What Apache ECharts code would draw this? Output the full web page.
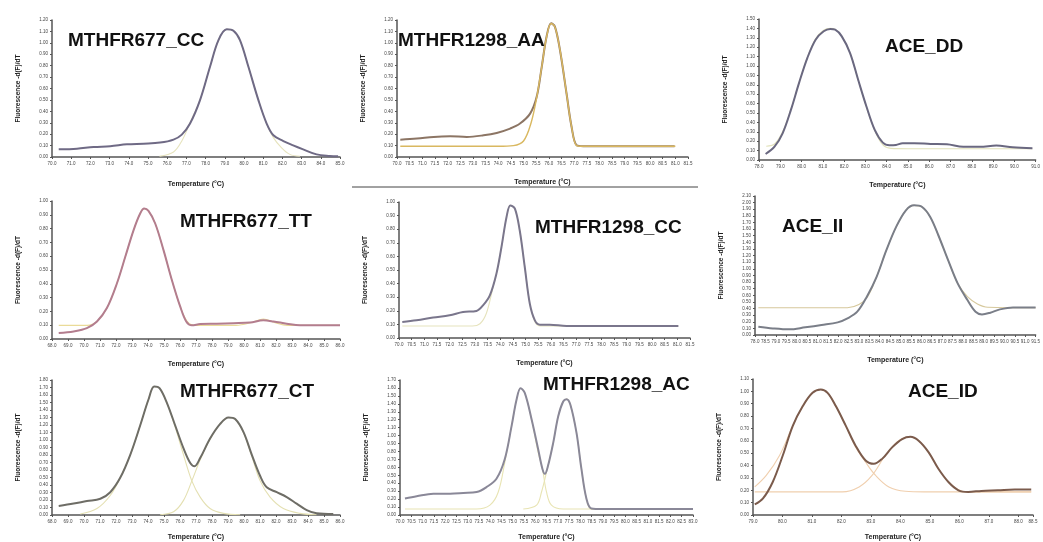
<!DOCTYPE html>
<html>
<head>
<meta charset="utf-8">
<script src="https://cdn.jsdelivr.net/npm/echarts@6/dist/echarts.min.js"></script>
<style>
  html, body { margin: 0; padding: 0; background: #fff; }
  #chart { width: 1043px; height: 542px; }
</style>
</head>
<body>
<div id="chart"></div>
<script>
// melt peaks, points are [temperature, -dF/dT]
const cc677Melt = [[70.35,0.067],[71.30,0.073],[72.17,0.088],[73.03,0.094],[73.90,0.111],[74.77,0.117],[75.63,0.126],[76.33,0.152],[76.76,0.196],[77.19,0.293],[77.71,0.498],[78.23,0.790],[78.67,1.024],[79.10,1.118],[79.45,1.106],[79.79,1.024],[80.23,0.790],[80.75,0.498],[81.18,0.293],[81.53,0.190],[82.05,0.140],[82.56,0.102],[83.08,0.067],[83.78,0.023],[84.47,0.009],[84.90,0.006]];
const cc677Fit = [[75.6,0.006],[76.33,0.044],[76.76,0.14],[77.19,0.30],[77.71,0.50],[78.23,0.79],[78.67,1.02],[79.10,1.118],[79.45,1.106],[79.79,1.02],[80.23,0.79],[80.75,0.498],[81.18,0.29],[81.53,0.17],[81.96,0.08],[82.39,0.023],[82.91,0.006]];

const aa1298Melt = [[70.13,0.152],[70.79,0.161],[71.45,0.176],[72.10,0.181],[72.76,0.176],[73.42,0.190],[73.94,0.211],[74.47,0.249],[74.86,0.293],[75.26,0.380],[75.52,0.527],[75.72,0.790],[75.91,1.054],[76.09,1.171],[76.24,1.142],[76.44,0.937],[76.70,0.556],[76.90,0.263],[77.10,0.102],[77.36,0.094],[78.02,0.094],[79.33,0.094],[80.97,0.094]];
const aa1298Fit = [[70.13,0.094],[72.0,0.094],[74.0,0.094],[74.6,0.10],[75.0,0.14],[75.3,0.30],[75.52,0.52],[75.72,0.79],[75.91,1.05],[76.09,1.17],[76.24,1.14],[76.44,0.94],[76.70,0.556],[76.90,0.263],[77.10,0.10],[77.36,0.094],[81.0,0.094]];

const ddAceMelt = [[78.31,0.064],[78.73,0.142],[79.11,0.284],[79.50,0.533],[79.88,0.818],[80.27,1.084],[80.66,1.280],[81.04,1.369],[81.35,1.394],[81.58,1.386],[81.89,1.315],[82.28,1.138],[82.66,0.853],[83.05,0.569],[83.44,0.320],[83.82,0.185],[84.13,0.156],[84.44,0.160],[84.75,0.178],[85.29,0.178],[86.06,0.171],[86.83,0.167],[87.60,0.142],[88.38,0.142],[89.15,0.153],[89.92,0.135],[90.85,0.124]];
const ddAceFit = [[78.34,0.146],[78.73,0.17],[79.11,0.30],[79.50,0.54],[79.88,0.82],[80.27,1.09],[80.66,1.29],[81.04,1.38],[81.35,1.40],[81.58,1.39],[81.89,1.32],[82.28,1.14],[82.66,0.85],[83.05,0.56],[83.44,0.31],[83.82,0.16],[84.2,0.124],[85.0,0.12],[90.85,0.12]];

const tt677Melt = [[68.42,0.043],[69.35,0.055],[70.18,0.079],[70.81,0.127],[71.43,0.224],[72.06,0.404],[72.58,0.596],[73.10,0.789],[73.51,0.909],[73.76,0.945],[74.03,0.928],[74.45,0.837],[74.97,0.644],[75.49,0.428],[76.01,0.236],[76.39,0.127],[76.74,0.099],[77.26,0.108],[78.30,0.111],[79.34,0.115],[80.38,0.120],[81.21,0.135],[81.84,0.127],[82.67,0.111],[83.50,0.099],[86.0,0.099]];
const tt677Fit = [[68.42,0.099],[70.2,0.099],[70.81,0.127],[71.43,0.224],[72.06,0.404],[72.58,0.596],[73.10,0.789],[73.51,0.909],[73.76,0.945],[74.03,0.928],[74.45,0.837],[74.97,0.644],[75.49,0.428],[76.01,0.236],[76.5,0.12],[77.0,0.099],[79.5,0.099],[80.5,0.12],[81.21,0.145],[81.9,0.12],[82.7,0.099],[86.0,0.099]];

const cc1298Melt = [[70.13,0.118],[70.69,0.130],[71.35,0.150],[72.0,0.167],[72.53,0.191],[73.06,0.199],[73.32,0.240],[73.59,0.314],[73.85,0.473],[74.05,0.669],[74.25,0.890],[74.40,0.975],[74.58,0.951],[74.77,0.792],[74.97,0.522],[75.17,0.252],[75.37,0.130],[75.57,0.098],[75.96,0.098],[76.62,0.088],[78.60,0.088],[81.04,0.088]];
const cc1298Fit = [[70.13,0.088],[72.9,0.088],[73.2,0.105],[73.45,0.18],[73.7,0.36],[73.85,0.473],[74.05,0.669],[74.25,0.890],[74.40,0.975],[74.58,0.951],[74.77,0.792],[74.97,0.522],[75.17,0.252],[75.37,0.12],[75.6,0.088],[81.04,0.088]];

const iiAceMelt = [[78.16,0.126],[78.86,0.100],[79.64,0.085],[80.42,0.116],[81.20,0.151],[81.98,0.191],[82.45,0.251],[82.92,0.352],[83.38,0.578],[83.85,0.879],[84.32,1.281],[84.79,1.633],[85.26,1.884],[85.65,1.959],[86.04,1.934],[86.43,1.784],[86.82,1.507],[87.29,1.130],[87.75,0.779],[88.22,0.528],[88.61,0.352],[88.92,0.311],[89.32,0.337],[89.78,0.387],[90.41,0.417],[91.03,0.417],[91.50,0.417]];
const iiAceFit = [[78.16,0.412],[82.45,0.412],[83.0,0.46],[83.4,0.57],[83.85,0.879],[84.32,1.281],[84.79,1.633],[85.26,1.884],[85.65,1.959],[86.04,1.934],[86.43,1.784],[86.82,1.507],[87.29,1.13],[87.75,0.78],[88.22,0.58],[88.7,0.47],[89.2,0.42],[91.5,0.412]];

const ct677Melt = [[68.42,0.121],[69.35,0.152],[70.18,0.186],[71.02,0.217],[71.64,0.304],[72.27,0.499],[72.89,0.802],[73.51,1.193],[74.03,1.540],[74.39,1.713],[74.72,1.691],[75.18,1.496],[75.70,1.193],[76.22,0.889],[76.64,0.694],[76.91,0.651],[77.26,0.759],[77.88,1.019],[78.51,1.214],[79.03,1.301],[79.45,1.279],[79.97,1.106],[80.49,0.802],[81.01,0.520],[81.42,0.369],[82.05,0.304],[82.67,0.239],[83.29,0.152],[83.92,0.065],[84.54,0.022],[85.58,0.013]];
const ct677FitLow = [[69.77,0.013],[70.81,0.087],[71.64,0.260],[72.27,0.499],[72.89,0.802],[73.51,1.193],[74.03,1.540],[74.39,1.713],[74.72,1.691],[75.18,1.496],[75.70,1.171],[76.22,0.802],[76.74,0.455],[77.26,0.239],[77.88,0.087],[78.72,0.022],[79.76,0.004]];
const ct677FitHigh = [[74.76,0.004],[75.60,0.043],[76.22,0.195],[76.74,0.455],[77.26,0.737],[77.88,1.011],[78.51,1.214],[79.03,1.301],[79.45,1.279],[79.97,1.097],[80.49,0.781],[81.01,0.455],[81.63,0.239],[82.46,0.087],[83.50,0.022],[84.54,0.004]];

const ac1298Melt = [[70.22,0.207],[70.74,0.236],[71.48,0.269],[72.22,0.269],[72.81,0.278],[73.40,0.290],[73.84,0.352],[74.28,0.456],[74.65,0.705],[74.95,1.119],[75.17,1.451],[75.35,1.596],[75.54,1.534],[75.84,1.202],[76.13,0.829],[76.32,0.580],[76.43,0.518],[76.57,0.622],[76.80,0.912],[77.02,1.244],[77.24,1.430],[77.39,1.459],[77.56,1.389],[77.83,1.037],[78.05,0.580],[78.27,0.207],[78.49,0.083],[79.01,0.075],[80.34,0.075],[83.0,0.075]];
const ac1298FitLow = [[70.22,0.075],[73.40,0.075],[73.99,0.124],[74.36,0.290],[74.65,0.663],[74.95,1.119],[75.17,1.451],[75.35,1.596],[75.54,1.534],[75.84,1.202],[76.13,0.788],[76.32,0.580],[76.50,0.290],[76.72,0.124],[77.24,0.075],[79.0,0.075]];
const ac1298FitHigh = [[75.47,0.075],[76.06,0.124],[76.28,0.290],[76.50,0.539],[76.80,0.912],[77.02,1.244],[77.24,1.430],[77.39,1.459],[77.56,1.389],[77.83,1.037],[78.05,0.580],[78.27,0.207],[78.49,0.075],[83.0,0.075]];

const idAceMelt = [[79.06,0.085],[79.34,0.134],[79.67,0.267],[80.01,0.481],[80.35,0.721],[80.69,0.881],[81.02,0.988],[81.30,1.015],[81.53,0.988],[81.81,0.881],[82.15,0.721],[82.48,0.561],[82.82,0.441],[83.10,0.414],[83.38,0.454],[83.72,0.547],[84.06,0.614],[84.34,0.633],[84.62,0.601],[84.96,0.507],[85.29,0.374],[85.63,0.267],[85.97,0.200],[86.30,0.187],[86.75,0.195],[87.31,0.200],[87.88,0.206],[88.44,0.206]];
const idAceFitLow = [[79.06,0.227],[79.45,0.320],[79.90,0.481],[80.35,0.721],[80.69,0.881],[81.02,0.988],[81.30,1.015],[81.53,0.988],[81.81,0.881],[82.15,0.721],[82.48,0.55],[82.82,0.427],[83.16,0.320],[83.61,0.227],[84.17,0.192],[84.8,0.187],[88.44,0.187]];
const idAceFitHigh = [[79.06,0.187],[82.03,0.187],[82.60,0.227],[83.04,0.320],[83.49,0.481],[83.94,0.601],[84.34,0.633],[84.62,0.601],[84.96,0.507],[85.29,0.374],[85.63,0.267],[85.97,0.205],[86.30,0.187],[88.44,0.187]];

// one entry per genotype panel, x/y = [min, max, interval]
const panels = [
  { name: 'MTHFR677_CC', tl: 68, tc: 42, grid: [52, 20, 288, 137], xGap: 24, x: [70, 85, 1], y: [0, 1.2, 0.1], main: cc677Melt, fits: [cc677Fit], color: '#6f6a85', fitColor: '#e6e3bd' },
  { name: 'MTHFR1298_AA', tl: 398, tc: 42, grid: [397, 20, 291, 137], xGap: 22, x: [70, 81.5, 0.5], y: [0, 1.2, 0.1], main: aa1298Melt, fits: [aa1298Fit], color: '#8c7564', fitColor: '#d9b860', fitOnTop: true },
  { name: 'ACE_DD', tl: 885, tc: 48, grid: [759, 19, 281, 141], xGap: 22, x: [78, 91, 1], y: [0, 1.5, 0.1], main: ddAceMelt, fits: [ddAceFit], color: '#6a6880', fitColor: '#e2e2bb' },
  { name: 'MTHFR677_TT', tl: 180, tc: 223, grid: [52, 201, 288, 138], xGap: 22, x: [68, 86, 1], y: [0, 1.0, 0.1], main: tt677Melt, fits: [tt677Fit], color: '#b37d8e', fitColor: '#eadb98' },
  { name: 'MTHFR1298_CC', tl: 535, tc: 229, grid: [399, 202, 291, 136], xGap: 22, x: [70, 81.5, 0.5], y: [0, 1.0, 0.1], main: cc1298Melt, fits: [cc1298Fit], color: '#7a768c', fitColor: '#e6e3bd' },
  { name: 'ACE_II', tl: 782, tc: 228, grid: [755, 196, 288, 139], xGap: 22, x: [78, 91.5, 0.5], y: [0, 2.1, 0.1], main: iiAceMelt, fits: [iiAceFit], color: '#7a7e88', fitColor: '#d6c89c' },
  { name: 'MTHFR677_CT', tl: 180, tc: 393, grid: [52, 380, 288, 138], xGap: 19, x: [68, 86, 1], y: [0, 1.8, 0.1], main: ct677Melt, fits: [ct677FitLow, ct677FitHigh], color: '#6e6d66', fitColor: '#e4e0b2' },
  { name: 'MTHFR1298_AC', tl: 543, tc: 386, grid: [400, 380, 293, 137], xGap: 19, x: [70, 83, 0.5], y: [0, 1.7, 0.1], main: ac1298Melt, fits: [ac1298FitLow, ac1298FitHigh], color: '#8a8898', fitColor: '#e8e4b3' },
  { name: 'ACE_ID', tl: 908, tc: 393, grid: [753, 379, 280, 138], xGap: 19, x: [79, 88.5, 1], y: [0, 1.1, 0.1], main: idAceMelt, fits: [idAceFitLow, idAceFitHigh], color: '#7b5b4c', fitColor: '#f0cfae' }
];

const chart = echarts.init(document.getElementById('chart'), null, { renderer: 'canvas' });

const axisColor = '#555';
const titles = [], grids = [], xAxes = [], yAxes = [], series = [];

panels.forEach((p, i) => {
  titles.push({
    text: p.name, left: p.tl, top: p.tc - 11, padding: 0,
    textStyle: { fontSize: 19, fontWeight: 'bold', fontFamily: 'Liberation Sans, Arial', color: '#111' }
  });
  grids.push({ left: p.grid[0], top: p.grid[1], width: p.grid[2], height: p.grid[3], containLabel: false });
  xAxes.push({
    type: 'value', gridIndex: i, min: p.x[0], max: p.x[1], interval: p.x[2],
    name: 'Temperature (°C)', nameLocation: 'middle', nameGap: p.xGap,
    nameTextStyle: { fontSize: 7, fontWeight: 'bold', color: '#222', fontFamily: 'Liberation Sans' },
    axisLine: { lineStyle: { color: axisColor, width: 1.5 } },
    axisTick: { show: true, length: 2, lineStyle: { color: axisColor } },
    axisLabel: { fontSize: 4.5, color: '#444', margin: 4, formatter: v => v.toFixed(1) },
    splitLine: { show: false }
  });
  yAxes.push({
    type: 'value', gridIndex: i, min: p.y[0], max: p.y[1], interval: p.y[2],
    name: 'Fluorescence -d(F)/dT', nameLocation: 'middle', nameGap: 30, nameRotate: 90,
    nameTextStyle: { fontSize: 6.5, fontWeight: 'bold', color: '#222', fontFamily: 'Liberation Sans' },
    axisLine: { show: true, lineStyle: { color: axisColor, width: 1.5 } },
    axisTick: { show: true, length: 2, lineStyle: { color: axisColor } },
    axisLabel: { fontSize: 4.5, color: '#444', margin: 4, formatter: v => v.toFixed(2) },
    splitLine: { show: false }
  });
  const fitSeries = p.fits.map(f => ({
    type: 'line', xAxisIndex: i, yAxisIndex: i, data: f, smooth: 0.35,
    showSymbol: false, silent: true,
    lineStyle: { color: p.fitColor, width: p.fitOnTop ? 1.4 : 1.1 }
  }));
  const mainSeries = {
    type: 'line', xAxisIndex: i, yAxisIndex: i, data: p.main, smooth: 0.35,
    showSymbol: false, silent: true,
    lineStyle: { color: p.color, width: 2 }
  };
  if (p.fitOnTop) series.push(mainSeries, ...fitSeries);
  else series.push(...fitSeries, mainSeries);
});

chart.setOption({
  backgroundColor: '#fff',
  animation: false,
  title: titles,
  grid: grids,
  xAxis: xAxes,
  yAxis: yAxes,
  series: series,
  graphic: [{
    type: 'line', shape: { x1: 352, y1: 187, x2: 698, y2: 187 },
    style: { stroke: '#444', lineWidth: 1 }
  }]
});
</script>
</body>
</html>
